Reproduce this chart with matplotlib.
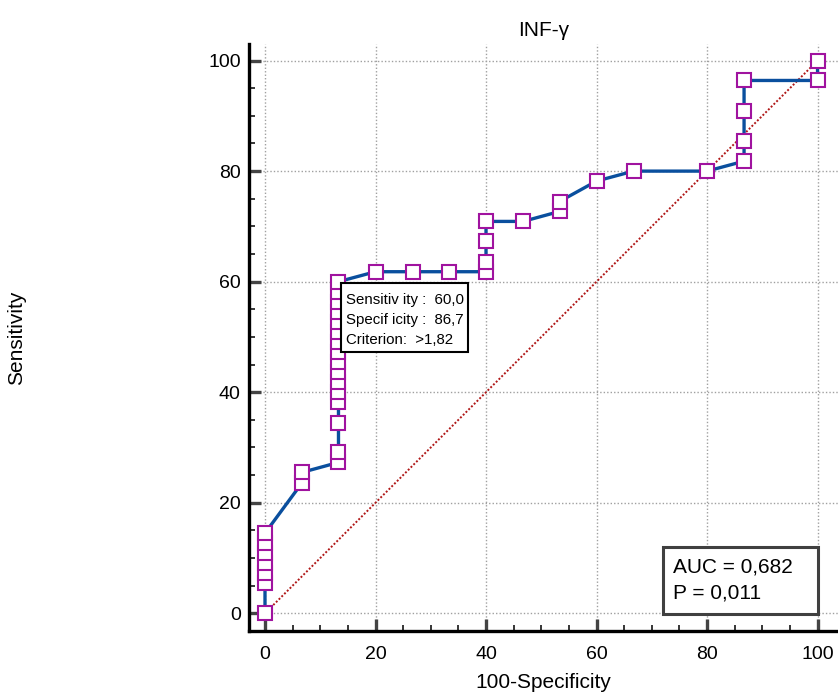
import matplotlib

matplotlib.use("Agg")
import matplotlib.pyplot as plt
from matplotlib.patches import Rectangle
from matplotlib.ticker import MultipleLocator

plt.rcParams["font.family"] = ["Liberation Sans", "DejaVu Sans"]

# ROC points (100-specificity, sensitivity)
fpr = [0, 0, 0, 0, 0, 0, 0,
       6.7, 6.7,
       13.3, 13.3, 13.3, 13.3, 13.3, 13.3, 13.3, 13.3, 13.3, 13.3, 13.3,
       13.3, 13.3, 13.3, 13.3, 13.3,
       20, 26.7, 33.3,
       40, 40, 40, 40,
       46.7, 53.3, 53.3, 60, 66.7, 80,
       86.7, 86.7, 86.7, 86.7,
       100, 100]
tpr = [0, 5.5, 7.3, 9.1, 10.9, 12.7, 14.5,
       23.6, 25.5,
       27.3, 29.1, 34.5, 38.2, 40.0, 41.8, 43.6, 45.5, 47.3, 49.1, 50.9,
       52.7, 54.5, 56.4, 58.2, 60.0,
       61.8, 61.8, 61.8,
       61.8, 63.6, 67.3, 70.9,
       70.9, 72.7, 74.5, 78.2, 80.0, 80.0,
       81.8, 85.5, 90.9, 96.4,
       96.4, 100]
diag = [0, 100]
ticks = [0, 20, 40, 60, 80, 100]

title = "INF-γ"
cut_lines = ["Sensitiv ity :  60,0", "Specif icity :  86,7", "Criterion:  >1,82"]
auc_lines = ["AUC = 0,682", "P = 0,011"]

fig = plt.figure(figsize=(8.38, 6.96), dpi=100)
ax = fig.add_axes([0.2971, 0.0938, 0.7029, 0.843])

ax.set_xlim(-2.9, 103.7)
ax.set_ylim(-3.15, 103.0)

ax.plot(diag, diag, color="#B01818", lw=1.4, ls=(0, (1, 1)), zorder=2)
ax.plot(fpr, tpr, color="#0A4F9E", lw=2.4, zorder=3,
        marker="s", ms=10.5, mfc="white", mec="#A0139F", mew=1.5)

ax.set_xticks(ticks)
ax.set_yticks(ticks)
ax.xaxis.set_minor_locator(MultipleLocator(5))
ax.yaxis.set_minor_locator(MultipleLocator(5))
ax.grid(True, which="major", color="#A0A0A0", ls=(0, (1, 1.5)), lw=1.0, zorder=0)
ax.set_axisbelow(True)

for s in ("top", "right"):
    ax.spines[s].set_visible(False)
for s in ("left", "bottom"):
    ax.spines[s].set_linewidth(2.4)
    ax.spines[s].set_color("black")

ax.tick_params(which="major", direction="in", length=8.5, width=2.4,
               color="#444444", labelsize=14)
ax.tick_params(which="minor", direction="in", length=4.5, width=1.1,
               color="black")
ax.tick_params(axis="x", which="major", pad=11)
ax.tick_params(axis="y", which="major", pad=6)

ax.set_xlabel("100-Specificity", fontsize=15)
ax.xaxis.set_label_coords(0.5, -0.072)
ax.set_ylabel("Sensitivity", fontsize=15)
ax.yaxis.set_label_coords(-0.3786, 0.5)
fig.text(543.5 / 838, 1 - 30 / 696, title, ha="center", va="center", fontsize=15)

# criterion box
ax.add_patch(Rectangle((13.7, 47.3), 23.0, 12.4, facecolor="white",
                       edgecolor="black", lw=1.5, zorder=4))
for i, line in enumerate(cut_lines):
    ax.text(14.65, 56.7 - 3.65 * i, line, fontsize=10.8, va="center",
            ha="left", zorder=5)

# AUC box
ax.add_patch(Rectangle((71.96, -0.16), 28.04, 12.2, facecolor="white",
                       edgecolor="#404040", lw=2.2, zorder=4))
for i, line in enumerate(auc_lines):
    ax.text(73.9, 8.43 - 4.83 * i, line, fontsize=15, va="center",
            ha="left", zorder=5)

fig.savefig("out.png", dpi=100)
